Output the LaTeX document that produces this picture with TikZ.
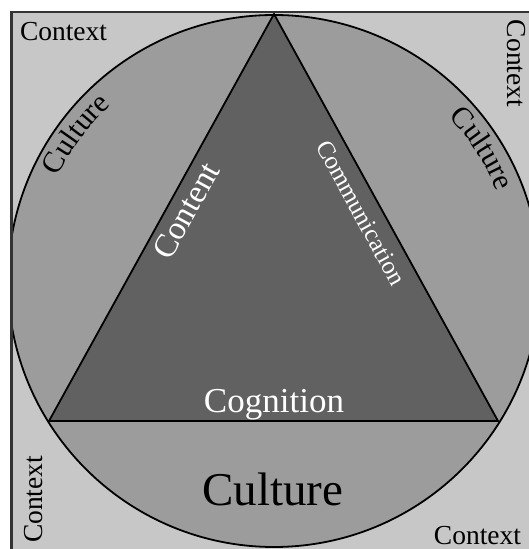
\documentclass[tikz,border=0pt]{standalone}
\usepackage{fontspec}
\setmainfont{Liberation Serif}
\usetikzlibrary{calc,decorations.text}
\definecolor{ctxgray}{gray}{0.78}
\definecolor{culgray}{gray}{0.61}
\definecolor{trigray}{gray}{0.38}
\definecolor{framegray}{gray}{0.2}
\newcommand{\fs}[1]{\fontsize{#1}{#1}\selectfont}
\begin{document}
\begin{tikzpicture}[x=1pt,y=1pt,
  lbl/.style={inner sep=0pt, outer sep=0pt, text=black},
  wlbl/.style={lbl, text=white},
  edge/.style={draw=black, line width=1.8pt, line join=miter}]
\useasboundingbox (0,0) rectangle (529,549);
\begin{scope}
  \clip (0,0) rectangle (529,549);
  % context panel
  \fill[ctxgray] (11.5,-10) rectangle (560,537);
  \begin{scope}
    \clip (11.5,-10) rectangle (560,537);
    % culture disc
    \coordinate (O) at (274,268);
    \fill[culgray] (O) circle[radius=266];
    \draw[edge] (O) circle[radius=266];
    % triangle of the three Cs
    \coordinate (A) at (274,535);
    \coordinate (L) at (49,128);
    \coordinate (R) at (498,128);
    \filldraw[fill=trigray, edge] (A) -- (L) -- (R) -- cycle;
  \end{scope}
  \draw[framegray, line width=2.8pt] (11.5,-10) -- (11.5,537) -- (560,537);

  % context labels in the corners
  \node[lbl, anchor=base west] (ctxTL) at (20,508) {\fs{27.5}Context};
  \node[lbl, anchor=base west, rotate=-90] (ctxTR) at (507,529) {\fs{27.5}Context};
  \node[lbl, anchor=base west, rotate=90] (ctxBL) at (42,6) {\fs{27.5}Context};
  \node[lbl, anchor=base east] (ctxBR) at (521,4.5) {\fs{27.5}Context};

  % culture labels
  \path[decorate, decoration={text along path, text align=center,
      text={|\fs{30}|Culture}}]
    ($(O)+(166:240)$) arc[start angle=166, end angle=121, radius=240];
  \path[decorate, decoration={text along path, text align=center,
      text={|\fs{30}|Culture}}]
    ($(O)+(55:240)$) arc[start angle=55, end angle=10, radius=240];
  \node[lbl, anchor=base] (culB) at (273,43) {\fs{47}Culture};

  % triangle side labels
  \node[wlbl, rotate=61.1] (content) at (186,338) {\fs{33}Content};
  \node[wlbl, rotate=-61.2] (comm) at (361,336) {\fs{25}Communication};
  \node[wlbl, anchor=base] (cog) at (274,136) {\fs{35}Cognition};
\end{scope}
\end{tikzpicture}
\end{document}
